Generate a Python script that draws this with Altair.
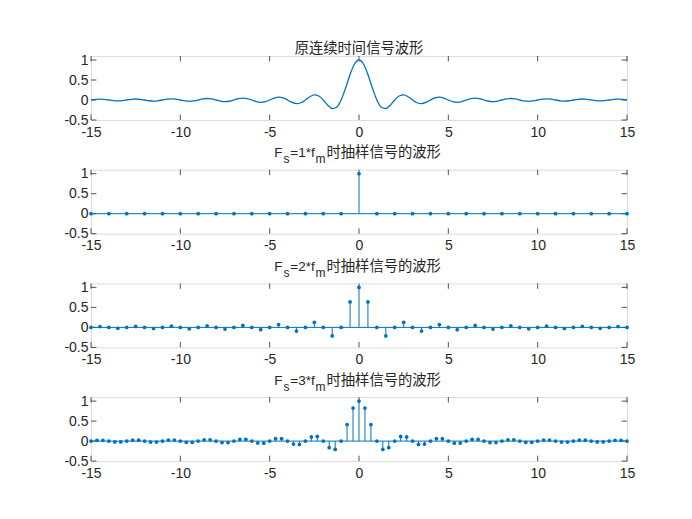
import altair as alt
import pandas as pd

BLUE = "#0072BD"
AX = "#262626"
W, H = 536, 64
TICK = 5.4

x_ticks = [-15, -10, -5, 0, 5, 10, 15]
y_ticks = [-0.5, 0, 0.5, 1]

# continuous signal, t = 0 .. 15 step 0.25 (symmetric)
cont_step = 0.25
cont_half = [1, 0.900, 0.637, 0.300, 0, -0.180, -0.212, -0.129, 0, 0.100, 0.127, 0.082,
             0, -0.069, -0.091, -0.060, 0, 0.053, 0.071, 0.047, 0, -0.043, -0.058, -0.039,
             0, 0.036, 0.049, 0.033, 0, -0.031, -0.042, -0.029, 0, 0.027, 0.037, 0.026,
             0, -0.024, -0.034, -0.023, 0, 0.022, 0.030, 0.021, 0, -0.020, -0.028, -0.019,
             0, 0.018, 0.025, 0.018, 0, -0.017, -0.024, -0.016, 0, 0.016, 0.022, 0.015, 0]

fs1_step = 1.0
fs1_half = [1] + [0] * 15

fs2_step = 0.5
fs2_half = [1, 0.637, 0, -0.212, 0, 0.127, 0, -0.091, 0, 0.071, 0, -0.058, 0, 0.049, 0,
            -0.042, 0, 0.037, 0, -0.034, 0, 0.030, 0, -0.028, 0, 0.025, 0, -0.024, 0, 0.022, 0]

fs3_step = 1 / 3
fs3_half = [1, 0.827, 0.413, 0, -0.207, -0.165, 0, 0.118, 0.103, 0, -0.083, -0.075,
            0, 0.064, 0.059, 0, -0.052, -0.049, 0, 0.044, 0.041, 0, -0.038, -0.036,
            0, 0.033, 0.032, 0, -0.030, -0.029, 0, 0.027, 0.026, 0, -0.024, -0.024,
            0, 0.022, 0.022, 0, -0.021, -0.020, 0, 0.019, 0.019, 0]

title_top = "原连续时间信号波形"
title_ratio = ["1", "2", "3"]
title_tail = "时抽样信号的波形"


def full(half, step):
    n = len(half) - 1
    t = [-step * (n - i) for i in range(n)] + [step * i for i in range(n + 1)]
    y = half[:0:-1] + half
    return pd.DataFrame({"t": t, "y": y, "zero": [0] * len(t)})


LBL = "replace(format(datum.value, '~g'), '\u2212', '-')"
X = alt.X("t:Q", scale=alt.Scale(domain=[-15, 15], nice=False, zero=False),
          axis=alt.Axis(values=x_ticks, ticks=False, tickSize=0, domain=False, grid=False,
                        labelFontSize=14, labelColor=AX, labelFont="Liberation Sans",
                        labelPadding=5, title=None, labelExpr=LBL, labelFlush=False))
Y = alt.Y("y:Q", scale=alt.Scale(domain=[-0.5, 1.1], nice=False, zero=False),
          axis=alt.Axis(values=y_ticks, ticks=False, tickSize=0, domain=False, grid=False,
                        labelFontSize=14, labelColor=AX, labelFont="Liberation Sans",
                        labelPadding=3, title=None, labelExpr=LBL, labelFlush=False))


def tick_layers():
    xt = pd.DataFrame({"t": x_ticks})
    yt = pd.DataFrame({"y": y_ticks})
    return [
        alt.Chart(xt).mark_rule(color=AX, strokeWidth=0.8).encode(x=X, y=alt.value(H), y2=alt.value(H - TICK)),
        alt.Chart(xt).mark_rule(color=AX, strokeWidth=0.8).encode(x=X, y=alt.value(0), y2=alt.value(TICK)),
        alt.Chart(yt).mark_rule(color=AX, strokeWidth=0.8).encode(y=Y, x=alt.value(0), x2=alt.value(TICK)),
        alt.Chart(yt).mark_rule(color=AX, strokeWidth=0.8).encode(y=Y, x=alt.value(W), x2=alt.value(W - TICK)),
    ]


def seg(text, px, py, size, font):
    return alt.Chart(pd.DataFrame({"s": [text]})).mark_text(
        align="left", baseline="alphabetic", fontSize=size, font=font, color=AX
    ).encode(text="s:N", x=alt.value(px), y=alt.value(py))


def panel_cont():
    df = full(cont_half, cont_step)
    line = alt.Chart(df).mark_line(color=BLUE, strokeWidth=1.3, interpolate="monotone").encode(x=X, y=Y)
    title = alt.Chart(pd.DataFrame({"s": [title_top]})).mark_text(
        align="center", baseline="alphabetic", fontSize=14.3, font="Noto Sans CJK SC", color=AX
    ).encode(text="s:N", x=alt.value(W / 2), y=alt.value(-3))
    return alt.layer(*tick_layers(), line, title).properties(width=W, height=H)


def panel_stem(half, step, ratio):
    df = full(half, step)
    base = alt.Chart(pd.DataFrame({"t": [-15], "t2": [15], "y": [0]})).mark_rule(
        color=BLUE, strokeWidth=1).encode(x=X, x2="t2:Q", y=Y)
    stems = alt.Chart(df).mark_rule(color=BLUE, strokeWidth=1).encode(x=X, y=Y, y2="zero:Q")
    dots = alt.Chart(df).mark_circle(color=BLUE, size=14, opacity=1).encode(x=X, y=Y)
    ty = -12.5
    titles = [
        seg("F", 183.3, ty, 13.5, "Liberation Sans"),
        seg("s", 192.5, ty + 6, 12, "Liberation Sans"),
        seg("=" + ratio + "*f", 199.3, ty, 13.5, "Liberation Sans"),
        seg("m", 224.5, ty + 6, 12, "Liberation Sans"),
        seg(title_tail, 235.5, ty, 14.3, "Noto Sans CJK SC"),
    ]
    return alt.layer(*tick_layers(), base, stems, dots, *titles).properties(width=W, height=H)


chart = alt.vconcat(
    panel_cont(),
    panel_stem(fs1_half, fs1_step, title_ratio[0]),
    panel_stem(fs2_half, fs2_step, title_ratio[1]),
    panel_stem(fs3_half, fs3_step, title_ratio[2]),
    spacing=49.7, bounds="flush",
).properties(
    padding={"left": 55, "top": 33, "right": 5, "bottom": 5}
).configure_view(stroke=AX, strokeWidth=0.9).configure(background="white")

chart.save("out.html", embed_options={"renderer": "svg", "actions": False})
